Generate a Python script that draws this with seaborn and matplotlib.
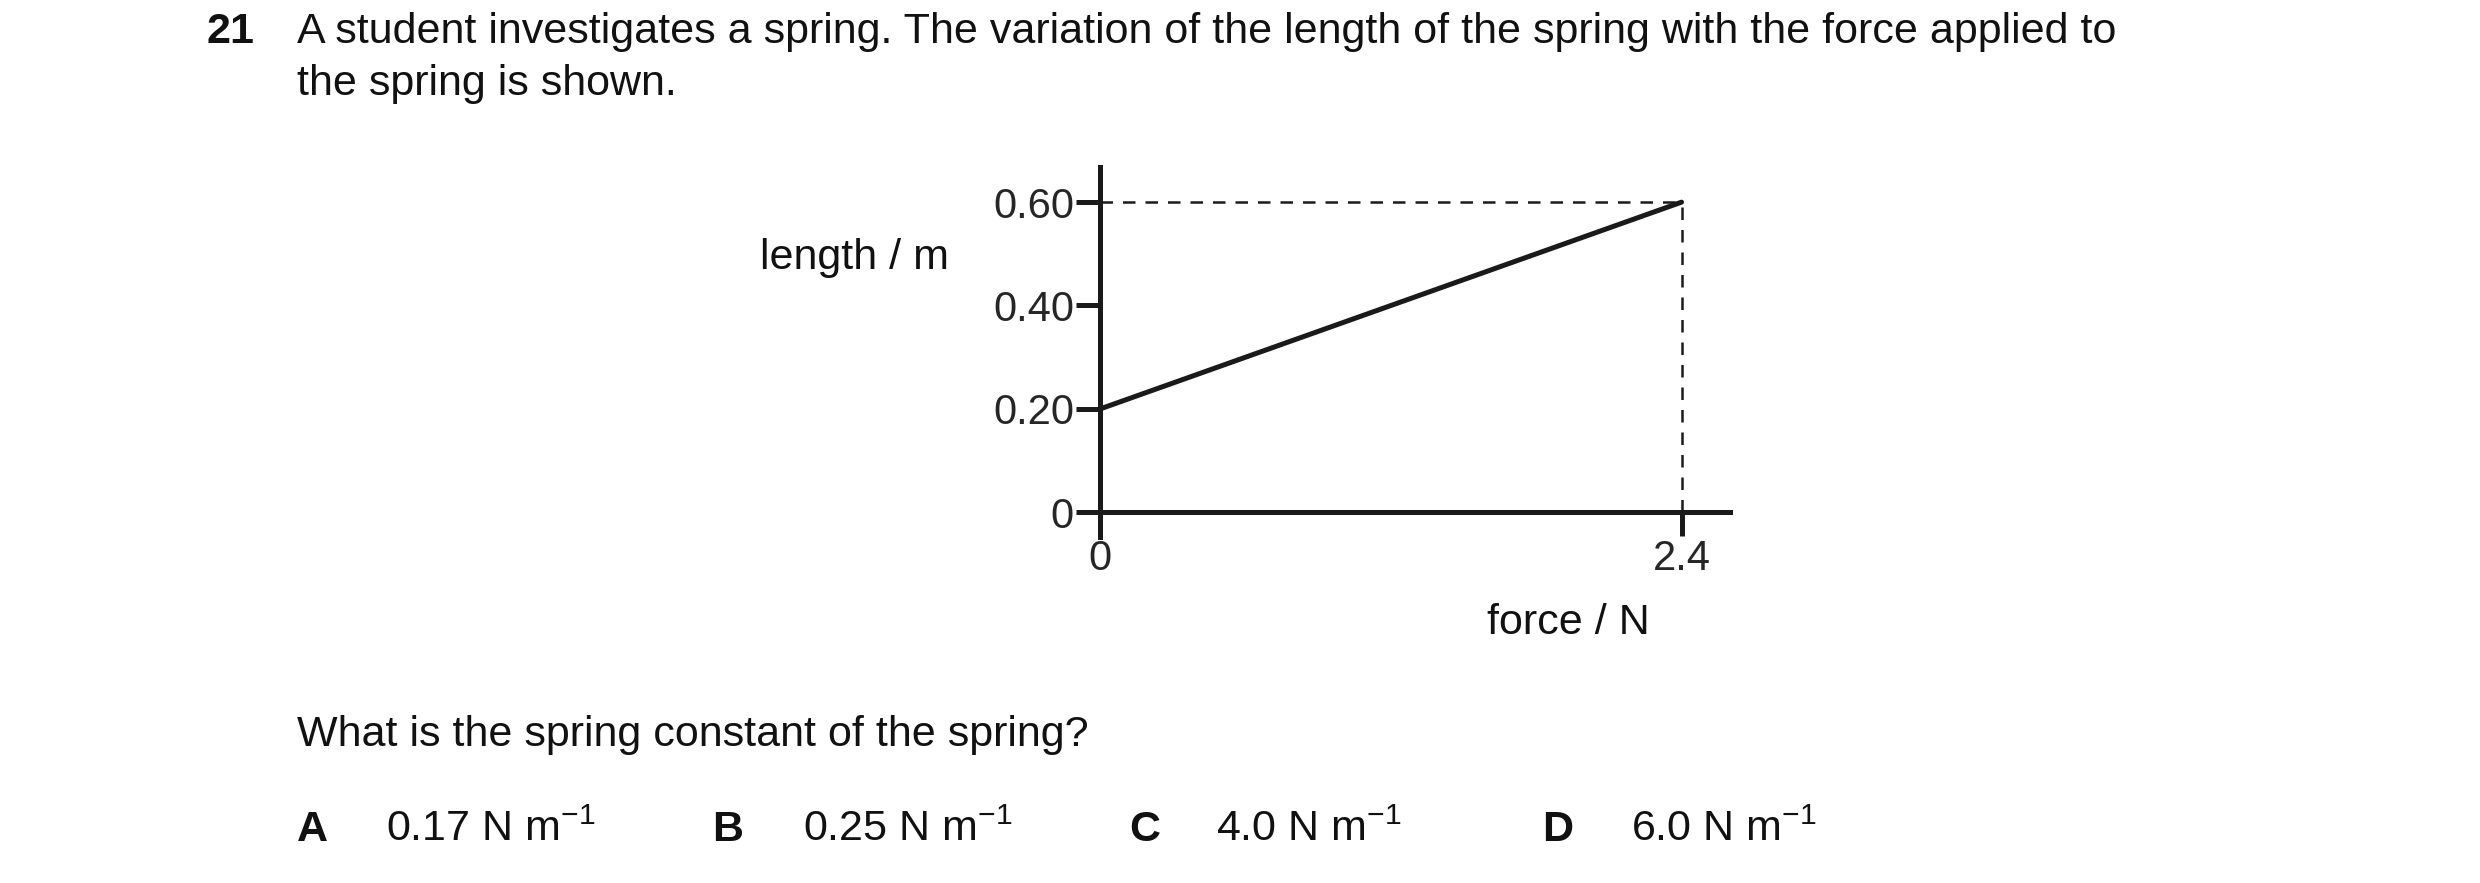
import matplotlib as mp
mp.use('Agg')
import matplotlib.pyplot as plt
import seaborn as sns
import pandas as pd

sns.set_style("white")
plt.rcParams['font.family'] = ['Liberation Sans', 'DejaVu Sans']
plt.rcParams['mathtext.fontset'] = 'custom'
plt.rcParams['mathtext.rm'] = 'Liberation Sans'
plt.rcParams['mathtext.it'] = 'Liberation Sans'

# data
force = [0.0, 2.4]
length = [0.20, 0.60]
y_ticks = [0, 0.20, 0.40, 0.60]
y_labels = ["0", "0.20", "0.40", "0.60"]
x_ticks = [0, 2.4]
x_labels = ["0", "2.4"]
options = ["A", "B", "C", "D"]
answers = ["0.17", "0.25", "4.0", "6.0"]

W, H = 2480, 883
fig = plt.figure(figsize=(12.4, 4.415), dpi=200)
ax = fig.add_axes([1081 / W, 1 - 537 / H, 649 / W, 370 / H])

df = pd.DataFrame({"force": force, "length": length})
sns.lineplot(data=df, x="force", y="length", ax=ax, color="#1a1a1a", lw=1.8)
ax.plot([0, force[1]], [length[1], length[1]], color="#1a1a1a", lw=0.9, ls=(0, (5, 4)))
ax.plot([force[1], force[1]], [0, length[1]], color="#1a1a1a", lw=0.9, ls=(0, (5, 4)))

ax.set_xlim(-0.08, 2.6)
ax.set_ylim(-0.048, 0.668)
for s in ["top", "right"]:
    ax.spines[s].set_visible(False)
ax.spines["left"].set_position(("data", 0))
ax.spines["bottom"].set_position(("data", 0))
for s in ["left", "bottom"]:
    ax.spines[s].set_linewidth(1.8)
    ax.spines[s].set_color("#1a1a1a")
ax.set_yticks(y_ticks, y_labels)
ax.set_xticks(x_ticks, x_labels)
ax.tick_params(direction="out", length=8.5, width=1.8, color="#1a1a1a",
               labelsize=15, pad=1, left=True, bottom=True)
ax.set_xlabel("")
ax.set_ylabel("")
ax.patch.set_alpha(0)

def t(x, y, s, **kw):
    kw.setdefault("fontsize", 15.5)
    kw.setdefault("va", "center")
    fig.text(x / W, 1 - y / H, s, color="#111111", **kw)

t(207, 32, "21", fontweight="bold")
t(297, 32, "A student investigates a spring. The variation of the length of the spring with the force applied to")
t(297, 84, "the spring is shown.")
t(949, 258, "length / m", ha="right")
t(1568, 623, "force / N", ha="center")
t(297, 735, "What is the spring constant of the spring?")
for lx, vx, o, a in zip([297, 712, 1129, 1542], [386, 803, 1216, 1631], options, answers):
    t(lx, 830, o, fontweight="bold")
    t(vx, 830, a + " N m$^{-1}$")

fig.savefig("out.png", dpi=200)
